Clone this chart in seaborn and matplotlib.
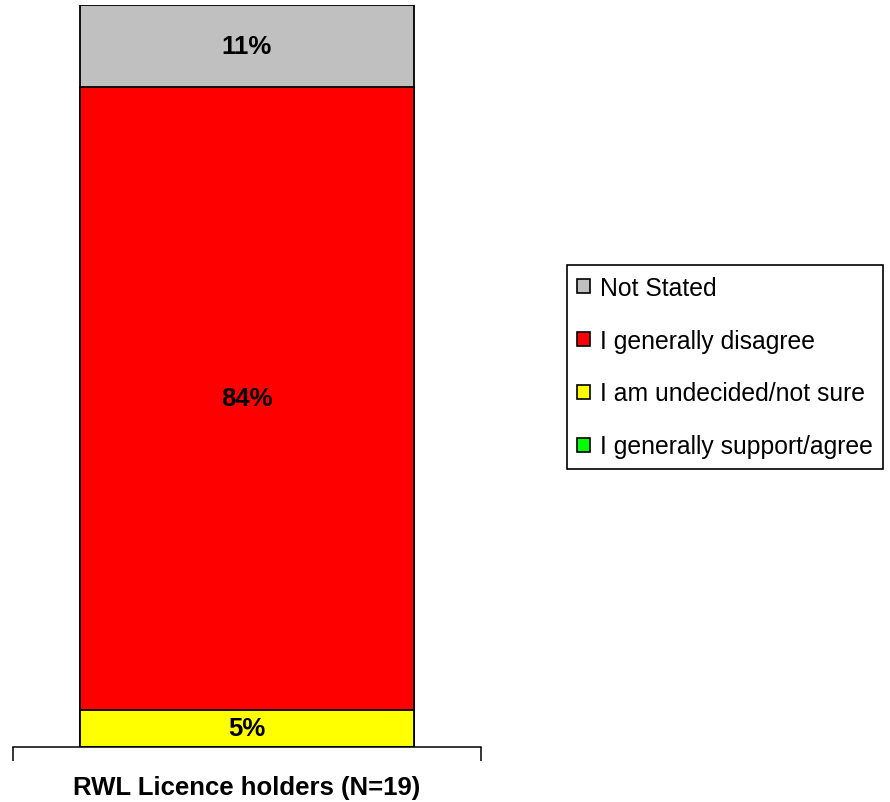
import matplotlib
matplotlib.use("Agg")
import matplotlib.pyplot as plt
from matplotlib.patches import Patch
import seaborn as sns

sns.set_style("white")
plt.rcParams['font.family'] = ['Liberation Sans', 'DejaVu Sans']
plt.rcParams['text.color'] = 'black'
plt.rcParams['xtick.color'] = 'black'

# data (bottom to top of the stack)
category = "RWL Licence holders (N=19)"
answers = ["I generally support/agree", "I am undecided/not sure",
           "I generally disagree", "Not Stated"]
percent = [0, 5, 84, 11]
colors = ["#00FF00", "#FFFF00", "#FF0000", "#C0C0C0"]

fig = plt.figure(figsize=(8.9, 8.03), dpi=100)
ax = fig.add_axes([13/890, 55/803, 468/890, 742/803])

# stacked bar: draw cumulative totals from the top down
cum = []
total = 0
for p in percent:
    total += p
    cum.append(total)

for i in reversed(range(len(percent))):
    sns.barplot(x=[category], y=[cum[i]], color=colors[i], width=0.714,
                edgecolor="black", linewidth=1.3, saturation=1, ax=ax)

# segment labels
for i, p in enumerate(percent):
    if p == 0:
        continue
    ax.text(0, cum[i] - p / 2, f"{p}%", ha="center", va="center",
            fontsize=18.5, fontweight="bold", color="black")

ax.set_ylim(0, 100)
ax.set_xlim(-0.5, 0.5)
for s in ["left", "top", "right"]:
    ax.spines[s].set_visible(False)
ax.spines["bottom"].set_linewidth(1.1)
ax.spines["bottom"].set_color("black")
ax.set_yticks([])
ax.set_xlabel("")
ax.set_ylabel("")
ax.set_xticks([0])
ax.set_xticklabels([category], fontsize=18.5, fontweight="bold")
ax.tick_params(axis="x", which="major", length=0, pad=20)
ax.set_xticks([-0.5, 0.5], minor=True)
ax.tick_params(axis="x", which="minor", length=10, width=1.1, color="black",
               direction="out", bottom=True)

# legend, top of stack first
handles = [Patch(facecolor=colors[i], edgecolor="black", linewidth=1.2, label=answers[i])
           for i in reversed(range(len(answers)))]
leg = fig.legend(handles=handles, loc="center left",
                 bbox_to_anchor=(567/890, 1 - 368/803), fontsize=17.8,
                 frameon=True, fancybox=False, edgecolor="black", framealpha=1,
                 handlelength=0.5, handleheight=0.5, handletextpad=0.4,
                 labelspacing=1.17, borderpad=0.42, borderaxespad=0)
leg.get_frame().set_linewidth(1.2)

fig.savefig("out.png", dpi=100)
